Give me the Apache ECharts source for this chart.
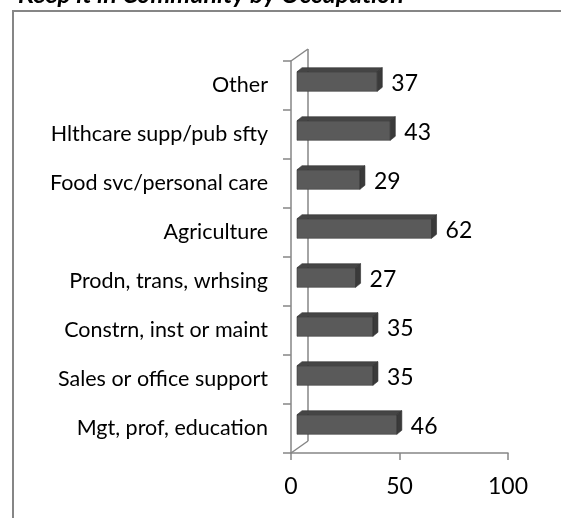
<!DOCTYPE html>
<html>
<head>
<meta charset="utf-8">
<script src="https://cdn.jsdelivr.net/npm/echarts@6/dist/echarts.min.js"></script>
<style>
  html, body { margin: 0; padding: 0; background: #fff; }
  #chart { width: 561px; height: 518px; }
</style>
</head>
<body>
<div id="chart"></div>
<script>
// categories listed bottom -> top (category axis starts at the bottom)
const categories = [
  'Mgt, prof, education',
  'Sales or office support',
  'Constrn, inst or maint',
  'Prodn, trans, wrhsing',
  'Agriculture',
  'Food svc/personal care',
  'Hlthcare supp/pub sfty',
  'Other'
];
const values = [46, 35, 35, 27, 62, 29, 43, 37];
const xMin = 0;
const xMax = 100;
const xStep = 50;

const chart = echarts.init(document.getElementById('chart'));

const axisGray = '#868686';
const font = 'Lato, "Open Sans", sans-serif';

// 3D offsets: whole floor depth, bar front offset, bar depth
const wallDx = 17, wallDy = -12;
const barFx = 6, barFy = -4;
const barDx = 5, barDy = -4;

const renderBar = (params, api) => {
  const val = api.value(0);
  const cat = api.value(1);
  const start = api.coord([0, cat]);
  const end = api.coord([val, cat]);
  const bandH = api.size([0, 1])[1];
  const barH = bandH * 0.4;

  const x0 = start[0] + barFx;
  const x1 = end[0] + barFx;
  const yc = start[1] + barFy;
  const top = yc - barH / 2;
  const bottom = yc + barH / 2;

  const children = [];

  // back wall + floor edges, drawn once behind everything
  if (params.dataIndex === 0) {
    const cs = params.coordSys;
    const lineStyle = { stroke: axisGray, lineWidth: 1.5 };
    children.push(
      { type: 'line', shape: { x1: cs.x, y1: cs.y, x2: cs.x + wallDx, y2: cs.y + wallDy }, style: lineStyle },
      { type: 'line', shape: { x1: cs.x + wallDx, y1: cs.y + wallDy, x2: cs.x + wallDx, y2: cs.y + cs.height + wallDy }, style: lineStyle },
      { type: 'line', shape: { x1: cs.x, y1: cs.y + cs.height, x2: cs.x + wallDx, y2: cs.y + cs.height + wallDy }, style: lineStyle }
    );
  }

  children.push(
    {
      type: 'rect',
      shape: { x: x0, y: top, width: x1 - x0, height: barH },
      style: { fill: '#5a5a5a', stroke: '#3a3a3a', lineWidth: 0.6 }
    },
    {
      type: 'polygon',
      shape: { points: [[x0, top], [x0 + barDx, top + barDy], [x1 + barDx, top + barDy], [x1, top]] },
      style: { fill: '#454545', stroke: '#333', lineWidth: 0.6 }
    },
    {
      type: 'polygon',
      shape: { points: [[x1, top], [x1 + barDx, top + barDy], [x1 + barDx, bottom + barDy], [x1, bottom]] },
      style: { fill: '#3a3a3a', stroke: '#2e2e2e', lineWidth: 0.6 }
    },
    {
      type: 'text',
      style: {
        x: x1 + barDx + 9,
        y: yc + 2,
        text: String(val),
        fill: '#000',
        font: '23px ' + font,
        verticalAlign: 'middle',
        align: 'left'
      }
    }
  );

  return { type: 'group', children };
};

const option = {
  animation: false,
  title: {
    text: 'Keep it in Community by Occupation',
    left: 13,
    top: -23,
    textStyle: {
      fontFamily: font,
      fontStyle: 'italic',
      fontWeight: 'bold',
      fontSize: 25,
      color: '#000'
    }
  },
  graphic: [{
    type: 'rect',
    shape: { x: 13, y: 11, width: 600, height: 600 },
    style: { fill: 'none', stroke: axisGray, lineWidth: 2 },
    silent: true
  }],
  grid: {
    left: 291,
    right: 53,
    top: 61,
    bottom: 65
  },
  xAxis: {
    type: 'value',
    min: xMin,
    max: xMax,
    interval: xStep,
    axisLine: { show: true, lineStyle: { color: axisGray, width: 1.5 } },
    axisTick: { show: true, length: 7, lineStyle: { color: axisGray, width: 1.5 } },
    axisLabel: { color: '#000', fontFamily: font, fontSize: 23, margin: 22 },
    splitLine: { show: false }
  },
  yAxis: {
    type: 'category',
    data: categories,
    axisLine: { show: true, lineStyle: { color: axisGray, width: 1.5 } },
    axisTick: { show: true, length: 8, lineStyle: { color: axisGray, width: 1.5 } },
    axisLabel: { color: '#000', fontFamily: font, fontSize: 21.5, margin: 23 },
    splitLine: { show: false }
  },
  series: [{
    type: 'custom',
    renderItem: renderBar,
    encode: { x: 0, y: 1 },
    data: values.map((v, i) => [v, i])
  }]
};

chart.setOption(option);
</script>
</body>
</html>
